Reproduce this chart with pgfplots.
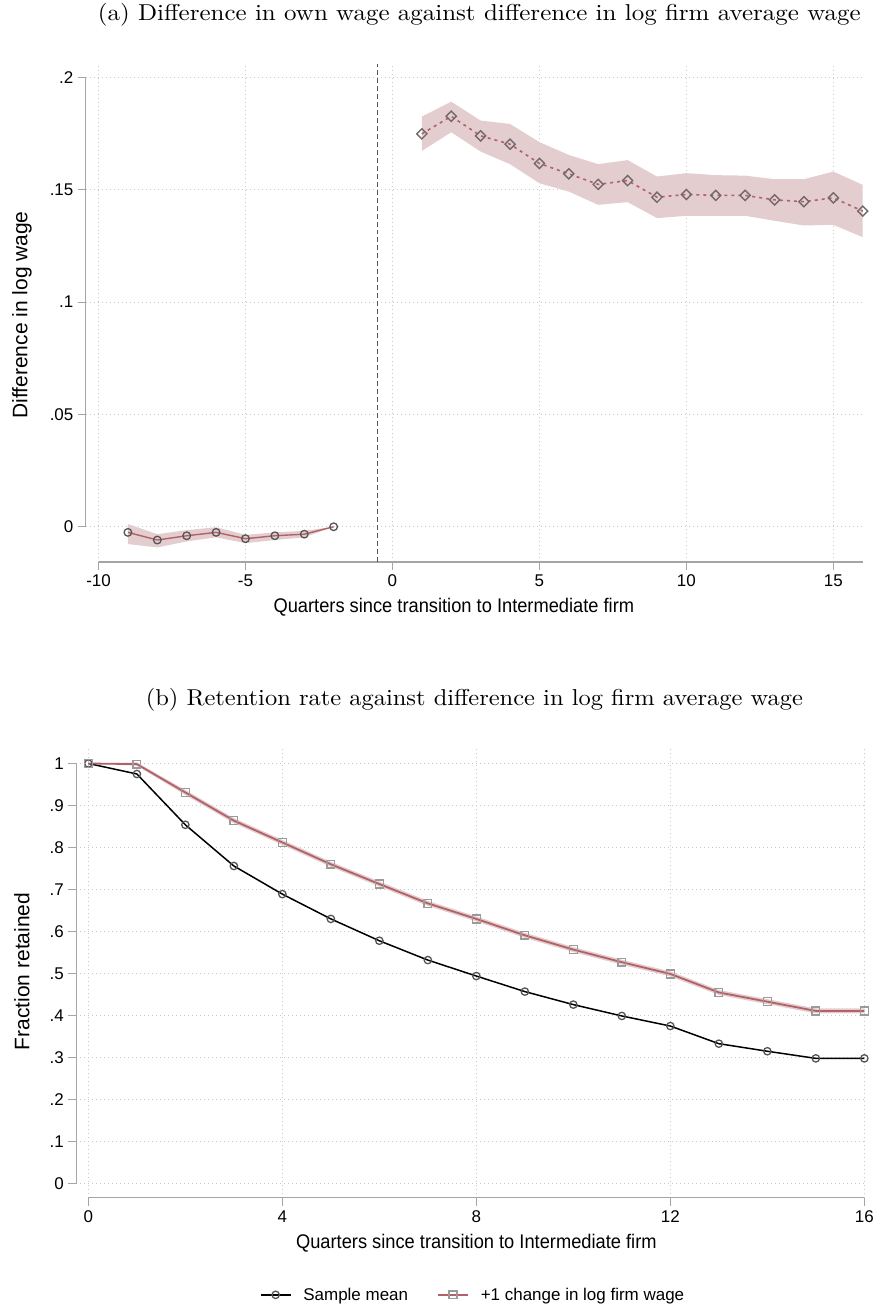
\documentclass[border=0pt]{standalone}
\usepackage{graphicx}
\usepackage{pgfplots}
\pgfplotsset{compat=1.18}
\usepackage{pgfplotstable}
\usepgfplotslibrary{fillbetween}
\usepackage{fontspec}
\newfontfamily\lsans{Liberation Sans}
\definecolor{redline}{RGB}{178,98,103}
\definecolor{bandc}{RGB}{227,205,207}
\definecolor{axisgray}{RGB}{165,165,165}
\definecolor{gridc}{RGB}{200,200,200}
\definecolor{diamc}{RGB}{115,105,105}
\definecolor{circc}{RGB}{85,85,85}
\definecolor{sqc}{RGB}{155,155,155}

\pgfplotstableread{
x y lo hi
-9 -0.0025 -0.0077 0.0012
-8 -0.0059 -0.0092 -0.0033
-7 -0.0040 -0.0065 -0.0015
-6 -0.0025 -0.0047 -0.0002
-5 -0.0053 -0.0073 -0.0036
-4 -0.0040 -0.0059 -0.0025
-3 -0.0033 -0.0047 -0.0018
-2 0 0 0
}\tabpre
\pgfplotstableread{
x y lo hi
1 0.1749 0.1673 0.1826
2 0.1827 0.1756 0.1892
3 0.1740 0.1670 0.1808
4 0.1703 0.1614 0.1793
5 0.1617 0.1529 0.1712
6 0.1571 0.1492 0.1655
7 0.1524 0.1433 0.1614
8 0.1541 0.1445 0.1632
9 0.1467 0.1374 0.1559
10 0.1479 0.1384 0.1574
11 0.1475 0.1384 0.1565
12 0.1475 0.1384 0.1563
13 0.1455 0.1362 0.1547
14 0.1447 0.1341 0.1547
15 0.1464 0.1344 0.1581
16 0.1405 0.1289 0.1522
}\tabpost
\pgfplotstableread{
x mean ret lo hi
0 1.000 1.000 1.000 1.000
1 0.975 0.9985 0.9945 1.0025
2 0.854 0.931 0.925 0.937
3 0.756 0.864 0.858 0.870
4 0.689 0.812 0.806 0.818
5 0.630 0.760 0.754 0.766
6 0.578 0.713 0.707 0.719
7 0.532 0.667 0.661 0.673
8 0.494 0.630 0.624 0.636
9 0.457 0.591 0.585 0.597
10 0.426 0.557 0.551 0.563
11 0.399 0.527 0.521 0.533
12 0.375 0.499 0.493 0.505
13 0.333 0.455 0.449 0.461
14 0.315 0.433 0.427 0.439
15 0.298 0.411 0.405 0.417
16 0.298 0.411 0.405 0.417
}\tabret

\pgfplotsset{
  statastyle/.style={
    scale only axis,
    axis line style={draw=none},
    xtick pos=bottom, ytick pos=left,
    tick align=outside,
    major tick length=8pt,
    tick style={draw=axisgray, line width=1.1pt},
    grid=major,
    major grid style={draw=gridc, line width=0.9pt, dash pattern=on 1pt off 3pt},
    tick label style={font=\lsans\fontsize{17}{19}\selectfont, text=black},
    yticklabel style={xshift=-1pt},
    xticklabel style={yshift=-1pt},
    clip=false,
  }
}

\begin{document}
\begin{tikzpicture}
\path (0pt,0pt) rectangle (876pt,1309pt);

% Titles
\node at (480pt,1296pt) {\scalebox{2.5}[2.3]{\fontsize{10}{12}\selectfont (a) Difference in own wage against difference in log firm average wage}};
\node at (475pt,610pt) {\scalebox{2.45}[2.3]{\fontsize{10}{12}\selectfont (b) Retention rate against difference in log firm average wage}};

% Axis labels
\node[font=\lsans\fontsize{18.3}{20}\selectfont] at (454.5pt,703pt) {\scalebox{1}[1.08]{Quarters since transition to Intermediate firm}};
\node[font=\lsans\fontsize{21}{23}\selectfont, rotate=90] at (22pt,995.5pt) {Difference in log wage};
\node[font=\lsans\fontsize{18.3}{20}\selectfont] at (477pt,66pt) {\scalebox{1}[1.08]{Quarters since transition to Intermediate firm}};
\node[font=\lsans\fontsize{21}{23}\selectfont, rotate=90] at (22pt,338pt) {Fraction retained};

% Top axis
\begin{axis}[statastyle,
  at={(86pt,748pt)}, anchor=south west,
  width=780pt, height=499pt,
  xmin=-10.43, xmax=16.07, ymin=-0.0157, ymax=0.2061,
  xtick={-10,-5,0,5,10,15}, xticklabels={-10,-5,0,5,10,15},
  ytick={0,0.05,0.1,0.15,0.2}, yticklabels={0,.05,.1,.15,.2},
]
\addplot[name path=preU, draw=none, forget plot] table[x=x,y=hi] {\tabpre};
\addplot[name path=preL, draw=none, forget plot] table[x=x,y=lo] {\tabpre};
\addplot[fill=bandc, draw=none, forget plot] fill between[of=preU and preL];
\addplot[name path=postU, draw=none, forget plot] table[x=x,y=hi] {\tabpost};
\addplot[name path=postL, draw=none, forget plot] table[x=x,y=lo] {\tabpost};
\addplot[fill=bandc, draw=none, forget plot] fill between[of=postU and postL];

\addplot[redline, line width=1.4pt, mark=o, mark size=3.8pt,
  mark options={draw=circc, line width=1.3pt, solid}] table[x=x,y=y] {\tabpre};
\addplot[redline, line width=1.6pt, dash pattern=on 3pt off 4pt, mark=square, mark size=3.6pt,
  mark options={draw=diamc, line width=1.4pt, solid, rotate=45}] table[x=x,y=y] {\tabpost};

\draw[axisgray, line width=1.1pt] (axis cs:-10.43,0) -- (axis cs:-10.43,0.2);
\draw[axisgray, line width=1.1pt] (axis cs:-10,-0.0157) -- (axis cs:16,-0.0157);
\draw[color=circc, line width=1.1pt, dash pattern=on 5pt off 3pt] (axis cs:-0.5,-0.0157) -- (axis cs:-0.5,0.2061);
\end{axis}

% Bottom axis
\begin{axis}[statastyle,
  at={(76.5pt,111.3pt)}, anchor=south west,
  width=790.5pt, height=449.7pt,
  xmin=-0.247, xmax=16.03, ymin=-0.034, ymax=1.035,
  xtick={0,4,8,12,16}, xticklabels={0,4,8,12,16},
  ytick={0,0.1,0.2,0.3,0.4,0.5,0.6,0.7,0.8,0.9,1},
  yticklabels={0,.1,.2,.3,.4,.5,.6,.7,.8,.9,1},
  legend columns=2,
  legend style={draw=none, fill=none, at={(axis description cs:0.5025,-0.216)}, anchor=center,
    font=\lsans\fontsize{17}{19}\selectfont,
    /tikz/every odd column/.append style={column sep=10pt},
    /tikz/every even column/.append style={column sep=27pt}},
  legend image code/.code={\draw[mark repeat=2, mark phase=2] plot coordinates {(0pt,0pt) (15pt,0pt) (30pt,0pt)};},
]
\addplot[name path=retU, draw=none, forget plot] table[x=x,y=hi] {\tabret};
\addplot[name path=retL, draw=none, forget plot] table[x=x,y=lo] {\tabret};
\addplot[fill=bandc, draw=none, forget plot] fill between[of=retU and retL];

\addplot[black, line width=1.5pt, mark=o, mark size=3.7pt,
  mark options={draw=circc, line width=1.3pt}] table[x=x,y=mean] {\tabret};
\addlegendentry{Sample mean}
\addplot[redline, line width=1.8pt, mark=square, mark size=3.9pt,
  mark options={draw=sqc, line width=1.4pt}] table[x=x,y=ret] {\tabret};
\addlegendentry{+1 change in log firm wage}

\draw[axisgray, line width=1.1pt] (axis cs:-0.247,0) -- (axis cs:-0.247,1);
\draw[axisgray, line width=1.1pt] (axis cs:0,-0.034) -- (axis cs:16,-0.034);
\end{axis}
\end{tikzpicture}
\end{document}
